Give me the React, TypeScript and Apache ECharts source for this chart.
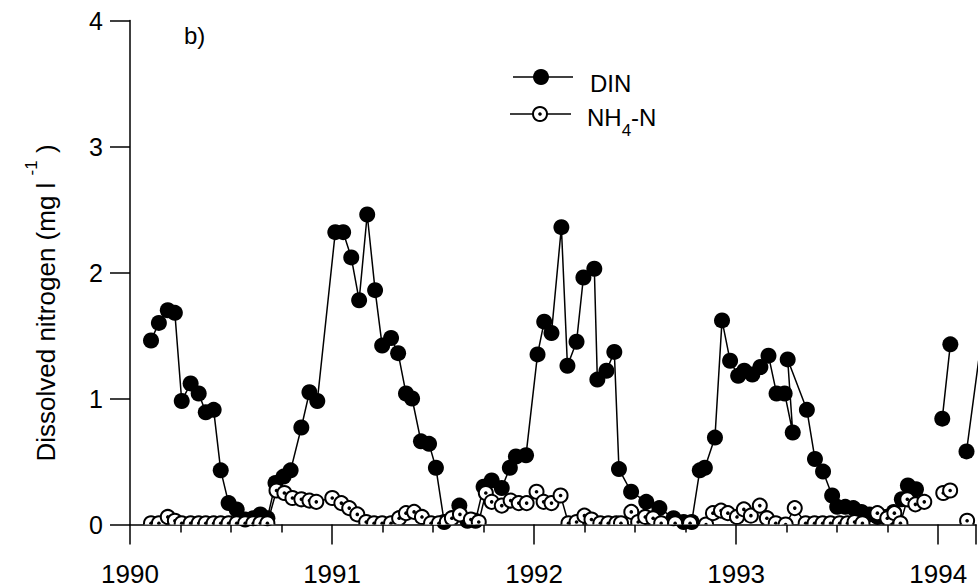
import React, { useEffect, useRef } from "react";
import * as echarts from "echarts";

// Sampling dates (decimal years) and dissolved inorganic nitrogen, mg/l.
// null marks a break in the record.
const dinDates = [
  1990.104, 1990.143, 1990.187, 1990.222, 1990.256, 1990.3, 1990.34, 1990.375,
  1990.414, 1990.449, 1990.488, 1990.528, 1990.57, 1990.61, 1990.645, 1990.68,
  1990.72, 1990.76, 1990.795, 1990.848, 1990.888, 1990.927, 1991.016, 1991.055,
  1991.095, 1991.134, 1991.174, 1991.213, 1991.248, 1991.292, 1991.327, 1991.366,
  1991.396, 1991.44, 1991.48, 1991.514, 1991.555, 1991.63, 1991.67, 1991.71,
  1991.75, 1991.79, 1991.84, 1991.88, 1991.91, 1991.96, 1992.017, 1992.05,
  1992.086, 1992.135, 1992.165, 1992.21, 1992.244, 1992.298, 1992.313, 1992.358,
  1992.397, 1992.42, 1992.48, 1992.555, 1992.62, 1992.69, 1992.74, 1992.78,
  1992.82, 1992.845, 1992.895, 1992.93, 1992.97, 1993.01, 1993.04, 1993.08,
  1993.12, 1993.16, 1993.2, 1993.24, 1993.28, 1993.255, 1993.35, 1993.39,
  1993.43, 1993.475, 1993.5, 1993.54, 1993.58, 1993.62, 1993.66, 1993.7,
  1993.74, 1993.78, 1993.82, 1993.85, 1993.89, 1993.95, 1994.02, 1994.06,
  1994.1, 1994.14, 1994.2,
];
const dinValues = [
  1.46, 1.6, 1.7, 1.68, 0.98, 1.12, 1.04, 0.89,
  0.91, 0.43, 0.17, 0.12, 0.04, 0.05, 0.08, 0.05,
  0.33, 0.38, 0.43, 0.77, 1.05, 0.98, 2.32, 2.32,
  2.12, 1.78, 2.46, 1.86, 1.42, 1.48, 1.36, 1.04,
  1.0, 0.66, 0.64, 0.45, 0.02, 0.15, 0.03, 0.03,
  0.3, 0.35, 0.29, 0.45, 0.54, 0.55, 1.35, 1.61,
  1.52, 2.36, 1.26, 1.45, 1.96, 2.03, 1.15, 1.22,
  1.37, 0.44, 0.26, 0.18, 0.13, 0.05, 0.02, 0.02,
  0.43, 0.45, 0.69, 1.62, 1.3, 1.18, 1.22, 1.19,
  1.25, 1.34, 1.04, 1.04, 0.73, 1.31, 0.91, 0.52,
  0.42, 0.23, 0.14, 0.14, 0.13, 0.1, 0.08, 0.06,
  0.06, 0.1, 0.2, 0.31, 0.28, null, 0.84, 1.43,
  null, 0.58, 1.3,
];

// Ammonium nitrogen, mg/l, on its own sampling dates.
const nh4Dates = [
  1990.104, 1990.143, 1990.187, 1990.222, 1990.256, 1990.3, 1990.34, 1990.375,
  1990.414, 1990.449, 1990.488, 1990.528, 1990.57, 1990.61, 1990.645, 1990.68,
  1990.725, 1990.764, 1990.804, 1990.848, 1990.888, 1990.922, 1991.001, 1991.046,
  1991.085, 1991.125, 1991.169, 1991.208, 1991.248, 1991.292, 1991.332, 1991.366,
  1991.406, 1991.445, 1991.49, 1991.529, 1991.568, 1991.593, 1991.633, 1991.687,
  1991.726, 1991.761, 1991.79, 1991.84, 1991.884, 1991.924, 1991.963, 1992.012,
  1992.047, 1992.086, 1992.131, 1992.17, 1992.21, 1992.249, 1992.284, 1992.328,
  1992.367, 1992.407, 1992.43, 1992.481, 1992.515, 1992.55, 1992.589, 1992.629,
  1992.698, 1992.772, 1992.851, 1992.885, 1992.925, 1992.959, 1993.004, 1993.038,
  1993.073, 1993.117, 1993.152, 1993.196, 1993.245, 1993.29, 1993.344, 1993.388,
  1993.428, 1993.467, 1993.512, 1993.551, 1993.586, 1993.625, 1993.699, 1993.748,
  1993.783, 1993.813, 1993.847, 1993.887, 1993.931, 1993.98, 1994.025, 1994.059,
  1994.1, 1994.143,
];
const nh4Values = [
  0.01, 0.01, 0.06, 0.03, 0.01, 0.01, 0.01, 0.01,
  0.01, 0.01, 0.01, 0.01, 0.01, 0.01, 0.01, 0.01,
  0.27, 0.25, 0.21, 0.2, 0.19, 0.18, 0.21, 0.17,
  0.13, 0.08, 0.02, 0.01, 0.01, 0.01, 0.05, 0.09,
  0.1, 0.06, 0.01, 0.01, 0.02, 0.05, 0.08, 0.04,
  0.02, 0.25, 0.18, 0.15, 0.19, 0.17, 0.17, 0.26,
  0.18, 0.17, 0.23, 0.01, 0.02, 0.07, 0.04, 0.01,
  0.01, 0.01, 0.01, 0.1, 0.02, 0.06, 0.05, 0.01,
  0.01, 0.01, 0.0, 0.09, 0.11, 0.09, 0.06, 0.12,
  0.07, 0.15, 0.05, 0.01, 0.0, 0.13, 0.01, 0.01,
  0.01, 0.01, 0.01, 0.01, 0.02, 0.01, 0.09, 0.05,
  0.09, 0.01, 0.2, 0.16, 0.18, null, 0.25, 0.27,
  null, 0.03,
];

const yearTicks = [1990, 1991, 1992, 1993, 1994];
const yTicks = [0, 1, 2, 3, 4];

const FONT = "'Liberation Sans', Arial, Helvetica, sans-serif";

function pairs(xs: number[], ys: (number | null)[]) {
  return xs.map((x, i) => [x, ys[i] === null ? "-" : ys[i]]);
}

export default function App() {
  const ref = useRef<HTMLDivElement>(null);

  useEffect(() => {
    if (!ref.current) return;
    const chart = echarts.init(ref.current, null, { renderer: "svg" });

    const dinData = pairs(dinDates, dinValues);
    const nh4Data = pairs(nh4Dates, nh4Values);
    const nh4Points = nh4Data.filter((d) => d[1] !== "-");

    chart.setOption({
      animation: false,
      backgroundColor: "#ffffff",
      textStyle: { fontFamily: FONT, color: "#000" },
      grid: { left: 130, right: 0, top: 20.5, bottom: 63.5, containLabel: false },
      xAxis: {
        type: "value",
        min: yearTicks[0],
        max: 1994.187,
        interval: 1,
        splitLine: { show: false },
        axisLine: { show: true, onZero: false, lineStyle: { color: "#000", width: 1.5 } },
        axisTick: { show: true, inside: false, length: 20, lineStyle: { color: "#000", width: 1.5 } },
        minorTick: { show: true, splitNumber: 4, length: 8, lineStyle: { color: "#000", width: 1.5 } },
        axisLabel: {
          margin: 36,
          fontSize: 26,
          fontFamily: FONT,
          color: "#000",
          formatter: (v: number) => (yearTicks.includes(v) ? String(v) : ""),
        },
      },
      yAxis: {
        type: "value",
        min: yTicks[0],
        max: yTicks[yTicks.length - 1],
        interval: 1,
        splitLine: { show: false },
        axisLine: { show: true, lineStyle: { color: "#000", width: 1.5 } },
        axisTick: { show: true, inside: false, length: 20, lineStyle: { color: "#000", width: 1.5 } },
        axisLabel: { margin: 27, fontSize: 25, fontFamily: FONT, color: "#000" },
      },
      graphic: [
        {
          type: "text",
          x: 41,
          y: 303,
          rotation: Math.PI / 2,
          style: {
            text: "{a|Dissolved nitrogen (mg l }{b|-1}{a| )}",
            align: "center",
            verticalAlign: "middle",
            fill: "#000",
            rich: {
              a: { fontSize: 26, fontFamily: FONT, fill: "#000", lineHeight: 36, verticalAlign: "bottom" },
              b: { fontSize: 17, fontFamily: FONT, fill: "#000", lineHeight: 36, verticalAlign: "top" },
            },
          },
        },
        {
          type: "text",
          x: 184,
          y: 35,
          style: { text: "b)", font: `24px ${FONT}`, fill: "#000", verticalAlign: "middle" },
        },
        // legend: DIN
        { type: "line", shape: { x1: 513, y1: 77, x2: 573, y2: 77 }, style: { stroke: "#000", lineWidth: 1.5 } },
        { type: "circle", shape: { cx: 541, cy: 77, r: 8 }, style: { fill: "#000" } },
        {
          type: "text",
          x: 590,
          y: 83,
          style: { text: "DIN", font: `24px ${FONT}`, fill: "#000", verticalAlign: "middle" },
        },
        // legend: NH4-N
        { type: "line", shape: { x1: 510, y1: 114, x2: 571, y2: 114 }, style: { stroke: "#000", lineWidth: 1.5 } },
        { type: "circle", shape: { cx: 540, cy: 114, r: 7 }, style: { fill: "#fff", stroke: "#000", lineWidth: 2 } },
        { type: "circle", shape: { cx: 540, cy: 114, r: 1.8 }, style: { fill: "#000" } },
        {
          type: "text",
          x: 587,
          y: 122,
          style: {
            text: "{a|NH}{s|4}{a|-N}",
            verticalAlign: "middle",
            fill: "#000",
            rich: {
              a: { fontSize: 24, fontFamily: FONT, fill: "#000", lineHeight: 34, verticalAlign: "top" },
              s: { fontSize: 17, fontFamily: FONT, fill: "#000", lineHeight: 34, verticalAlign: "bottom" },
            },
          },
        },
      ],
      series: [
        {
          name: "DIN",
          type: "line",
          data: dinData,
          connectNulls: false,
          symbol: "circle",
          symbolSize: 16,
          showAllSymbol: true,
          itemStyle: { color: "#000" },
          lineStyle: { color: "#000", width: 1.5 },
          z: 2,
        },
        {
          name: "NH4-N",
          type: "line",
          data: nh4Data,
          connectNulls: false,
          symbol: "none",
          lineStyle: { color: "#000", width: 1.5 },
          z: 3,
        },
        {
          name: "NH4-N markers",
          type: "custom",
          data: nh4Points,
          z: 4,
          clip: true,
          renderItem: (_params: any, api: any) => {
            const p = api.coord([api.value(0), api.value(1)]);
            return {
              type: "group",
              children: [
                {
                  type: "circle",
                  shape: { cx: p[0], cy: p[1], r: 7 },
                  style: { fill: "#fff", stroke: "#000", lineWidth: 2 },
                },
                {
                  type: "circle",
                  shape: { cx: p[0], cy: p[1], r: 1.8 },
                  style: { fill: "#000" },
                },
              ],
            };
          },
        },
      ],
    });

    return () => chart.dispose();
  }, []);

  return (
    <div
      ref={ref}
      style={{ position: "fixed", left: 0, top: 0, width: 979, height: 588, background: "#fff" }}
    />
  );
}
